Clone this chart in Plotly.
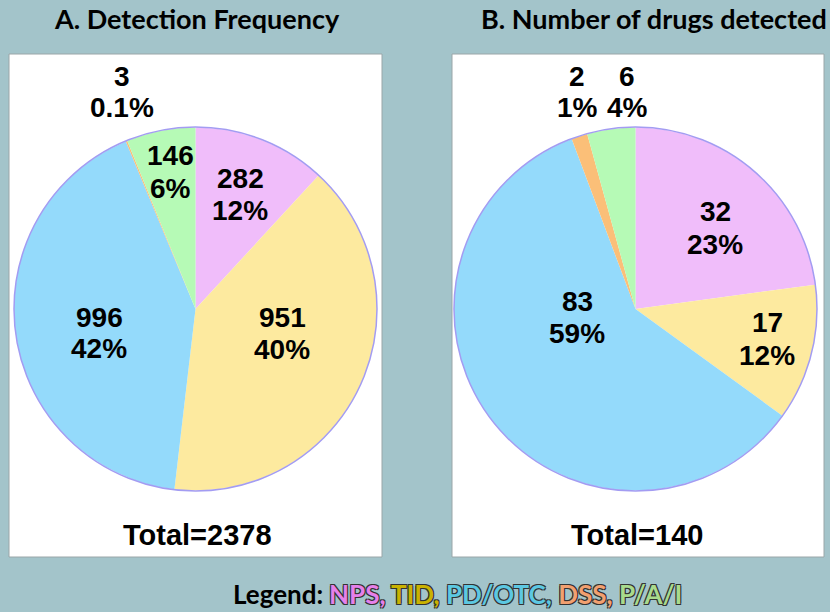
import plotly.graph_objects as go

W, H = 830, 612

categories = ["NPS", "TID", "PD/OTC", "DSS", "P/A/I"]
freq_values = [282, 951, 996, 3, 146]
drug_values = [32, 17, 83, 2, 6]
freq_pct_labels = ["12%", "40%", "42%", "0.1%", "6%"]
drug_pct_labels = ["23%", "12%", "59%", "1%", "4%"]

titles = ["A. Detection Frequency", "B. Number of drugs detected"]
totals = ["Total=2378", "Total=140"]

slice_colors = ["#f0bdfa", "#fdea9f", "#94dafb", "#fbbf78", "#b6fab6"]
legend_colors = ["#e680ea", "#c9b200", "#5cc8e2", "#f2a070", "#a9da8c"]


def px(x):
    return x / W


def py(y):
    return 1 - y / H


fig = go.Figure()

# panels
panels = [(9, 54, 382, 557), (452, 54, 824, 557)]
for (x0, y0, x1, y1) in panels:
    fig.add_shape(type="rect", xref="paper", yref="paper",
                  x0=px(x0), x1=px(x1), y0=py(y1), y1=py(y0),
                  fillcolor="white", line=dict(color="#9aa6a8", width=1), layer="below")

pie_boxes = [(14, 127, 377, 491), (454, 127, 817, 491)]
for i, (vals, (x0, y0, x1, y1)) in enumerate(zip([freq_values, drug_values], pie_boxes)):
    fig.add_trace(go.Pie(
        values=vals, labels=categories, sort=False, direction="clockwise", rotation=0,
        marker=dict(colors=slice_colors, line=dict(width=0)),
        textinfo="none", hoverinfo="label+value+percent", showlegend=False,
        domain=dict(x=[px(x0), px(x1)], y=[py(y1), py(y0)]),
    ))
    fig.add_shape(type="circle", xref="paper", yref="paper",
                  x0=px(x0), x1=px(x1), y0=py(y1), y1=py(y0),
                  line=dict(color="#a39cf2", width=1.5), fillcolor="rgba(0,0,0,0)")

label_font = dict(family="Liberation Sans, Arial", size=28, color="black")
# (x, y of value line, y of percent line)
label_pos = [
    [(240, 178, 210), (282, 317, 349), (99, 317, 348), (122, 76, 107), (170, 155, 188)],
    [(715, 211, 244), (767, 322, 355), (577, 301, 334), (577, 76, 107), (627, 76, 107)],
]
for vals, pcts, poss in zip([freq_values, drug_values], [freq_pct_labels, drug_pct_labels], label_pos):
    for v, p, (x, y1, y2) in zip(vals, pcts, poss):
        for txt, yy in ((str(v), y1), (p, y2)):
            fig.add_annotation(x=px(x), y=py(yy), xref="paper", yref="paper",
                               xanchor="center", yanchor="middle",
                               text=f"<b>{txt}</b>", showarrow=False,
                               font=label_font, align="center")

title_pos = [(197, 18), (654, 18)]
for t, (x, y) in zip(titles, title_pos):
    fig.add_annotation(x=px(x), y=py(y), xref="paper", yref="paper",
                       xanchor="center", yanchor="middle",
                       text=f"<b>{t}</b>", showarrow=False,
                       font=dict(family="Lato, Open Sans", size=27, color="black"))

total_pos = [(197, 535), (637, 535)]
for t, (x, y) in zip(totals, total_pos):
    fig.add_annotation(x=px(x), y=py(y), xref="paper", yref="paper",
                       xanchor="center", yanchor="middle",
                       text=f"<b>{t}</b>", showarrow=False,
                       font=dict(family="Liberation Sans Narrow, Arial Narrow, Liberation Sans", size=29, color="black"))

# legend line: black "Legend:" then outlined coloured category names
fig.add_annotation(x=px(325), y=py(594), xref="paper", yref="paper",
                   xanchor="right", yanchor="middle",
                   text="<b>Legend:</b>", showarrow=False,
                   font=dict(family="Lato, Open Sans", size=26, color="black"))
outline = "1px 1px 0 #333, -1px -1px 0 #333, 1px -1px 0 #333, -1px 1px 0 #333"
parts = []
for i, (c, col) in enumerate(zip(categories, legend_colors)):
    sep = "," if i < len(categories) - 1 else ""
    parts.append(f"<span style='color:{col}'>{c}{sep}</span>")
legend_text = "<b>" + " ".join(parts) + "</b>"
fig.add_annotation(x=px(327), y=py(594), xref="paper", yref="paper",
                   xanchor="left", yanchor="middle",
                   text=legend_text, showarrow=False,
                   font=dict(family="Lato, Open Sans", size=26, color="black", shadow=outline))

fig.update_layout(width=W, height=H, margin=dict(l=0, r=0, t=0, b=0),
                  paper_bgcolor="#a3c4ca", plot_bgcolor="#a3c4ca")

fig.write_html("out.html", config={"displayModeBar": False},
               post_script="document.body.style.margin='0';")
